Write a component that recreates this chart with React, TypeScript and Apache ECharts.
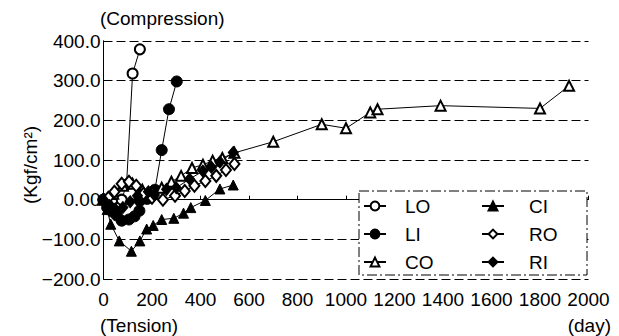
import React, { useEffect, useRef } from "react";
import * as echarts from "echarts";

const FONT = '"Liberation Sans", Arial, sans-serif';

const X_MIN = 0;
const X_MAX = 2000;
const X_STEP = 200;
const Y_MIN = -200;
const Y_MAX = 400;
const Y_STEP = 100;

const SERIES_NAMES = ["LO", "LI", "CO", "CI", "RO", "RI"];
const LEGEND_COL1 = ["LO", "LI", "CO"];
const LEGEND_COL2 = ["CI", "RO", "RI"];

const LO: [number, number][] = [
  [0, 0], [20, -15], [40, -25], [60, -20], [75, 0], [95, 38], [120, 318], [150, 379],
];
const LI: [number, number][] = [
  [0, 0], [15, -20], [35, -30], [55, -40], [75, -53], [105, -50], [128, -42],
  [148, -28], [150, -3], [180, 2], [212, 25], [240, 125], [270, 228], [302, 298],
];
const CO: [number, number][] = [
  [0, 0], [40, 15], [80, 35], [120, 40], [160, 25], [200, 20], [240, 30], [280, 45],
  [320, 60], [365, 80], [410, 88], [450, 98], [490, 105], [540, 118], [700, 146],
  [900, 190], [1000, 180], [1100, 220], [1130, 228], [1390, 237], [1800, 230], [1920, 287],
];
const CI: [number, number][] = [
  [0, 0], [15, -25], [30, -62], [65, -104], [115, -130], [150, -104], [178, -74],
  [205, -65], [240, -50], [290, -47], [330, -34], [360, -20], [420, -2], [480, 27], [535, 37],
];
const RO: [number, number][] = [
  [0, 0], [20, 5], [45, 20], [75, 40], [105, 45], [135, 35], [165, 15], [200, 5],
  [245, 0], [295, 10], [335, 22], [375, 35], [420, 47], [465, 60], [505, 75], [540, 90],
];
const RI: [number, number][] = [
  [0, 0], [25, -15], [50, -25], [80, -20], [110, -5], [140, 10], [185, 20], [210, 12],
  [260, 26], [300, 30], [355, 52], [410, 72], [445, 82], [480, 95], [535, 119],
];

const SERIES_DATA = [LO, LI, CO, CI, RO, RI];
const SYMBOLS = ["emptyCircle", "circle", "emptyTriangle", "triangle", "emptyDiamond", "diamond"];
const SYMBOL_SIZES: (number | number[])[] = [10, 11, 10, 10, [10, 12], [10, 12]];

const yFormat = (v: number) => {
  if (v === 0) return "0.00";
  const s = Math.abs(v).toFixed(1);
  return v < 0 ? "\u2212" + s : s;
};
const xFormat = (v: number) => String(v);

export default function App() {
  const ref = useRef<HTMLDivElement>(null);

  useEffect(() => {
    if (!ref.current) return;
    const chart = echarts.init(ref.current, undefined, { renderer: "svg" });

    const legendBase = {
      orient: "vertical" as const,
      top: 196,
      itemWidth: 22,
      itemHeight: 11,
      itemGap: 8,
      padding: 0,
      z: 10,
      textStyle: { fontSize: 19, lineHeight: 20, color: "#000", fontFamily: FONT },
    };

    chart.setOption({
      animation: false,
      backgroundColor: "#fff",
      textStyle: { fontFamily: FONT },
      grid: { left: 103.5, top: 41, width: 485, height: 238 },
      xAxis: [
        {
          type: "value",
          min: X_MIN,
          max: X_MAX,
          interval: X_STEP,
          axisLine: { show: true, lineStyle: { color: "#000", width: 1, type: [8, 3] } },
          axisTick: { show: true, inside: true, length: 4, lineStyle: { color: "#000" } },
          axisLabel: { color: "#000", fontSize: 19, fontFamily: FONT, margin: 11, formatter: xFormat },
          splitLine: { show: false },
        },
        {
          type: "value",
          position: "top",
          min: X_MIN,
          max: X_MAX,
          interval: X_STEP,
          axisLine: { show: true, lineStyle: { color: "#000", width: 1 } },
          axisTick: { show: false },
          axisLabel: { show: false },
          splitLine: { show: false },
        },
      ],
      yAxis: [
        {
          type: "value",
          min: Y_MIN,
          max: Y_MAX,
          interval: Y_STEP,
          axisLine: { show: true, lineStyle: { color: "#000", width: 1 } },
          axisTick: { show: true, inside: true, length: 4, lineStyle: { color: "#000" } },
          axisLabel: { color: "#000", fontSize: 19, fontFamily: FONT, margin: 3, formatter: yFormat },
          splitLine: { show: true, lineStyle: { color: "#000", width: 1, type: [9, 4] } },
        },
        {
          type: "value",
          position: "right",
          min: Y_MIN,
          max: Y_MAX,
          interval: Y_STEP,
          axisLine: { show: true, lineStyle: { color: "#000", width: 1 } },
          axisTick: { show: false },
          axisLabel: { show: false },
          splitLine: { show: false },
        },
      ],
      legend: [
        { ...legendBase, left: 363, data: LEGEND_COL1, textStyle: { ...legendBase.textStyle, padding: [0, 0, 0, 14] } },
        { ...legendBase, left: 481, data: LEGEND_COL2, textStyle: { ...legendBase.textStyle, padding: [0, 0, 0, 20] } },
      ],
      graphic: [
        {
          type: "rect",
          z: 3,
          shape: { x: 359, y: 191, width: 228, height: 84 },
          style: { fill: "#fff", stroke: "#000", lineWidth: 1, lineDash: [10, 3, 2, 3] },
        },
        {
          type: "text",
          x: 100,
          y: 18,
          style: { text: "(Compression)", fill: "#000", fontSize: 19, fontFamily: FONT, textAlign: "left", textVerticalAlign: "middle" },
        },
        {
          type: "text",
          x: 100,
          y: 325,
          style: { text: "(Tension)", fill: "#000", fontSize: 19, fontFamily: FONT, textAlign: "left", textVerticalAlign: "middle" },
        },
        {
          type: "text",
          x: 611,
          y: 325,
          style: { text: "(day)", fill: "#000", fontSize: 19, fontFamily: FONT, textAlign: "right", textVerticalAlign: "middle" },
        },
        {
          type: "text",
          x: 30,
          y: 165,
          rotation: Math.PI / 2,
          style: { text: "(Kgf/cm\u00B2)", fill: "#000", fontSize: 19, fontFamily: FONT, textAlign: "center", textVerticalAlign: "middle" },
        },
      ],
      series: SERIES_NAMES.map((name, i) => ({
        name,
        type: "line",
        xAxisIndex: 0,
        yAxisIndex: 0,
        data: SERIES_DATA[i],
        symbol: SYMBOLS[i],
        symbolSize: SYMBOL_SIZES[i],
        showAllSymbol: true,
        lineStyle: { color: "#000", width: 1 },
        itemStyle: { color: "#000", borderColor: "#000", borderWidth: 1 },
        z: 5,
      })),
    });

    return () => chart.dispose();
  }, []);

  return (
    <div
      ref={ref}
      style={{ position: "fixed", left: 0, top: 0, width: 619, height: 336, background: "#fff" }}
    />
  );
}
